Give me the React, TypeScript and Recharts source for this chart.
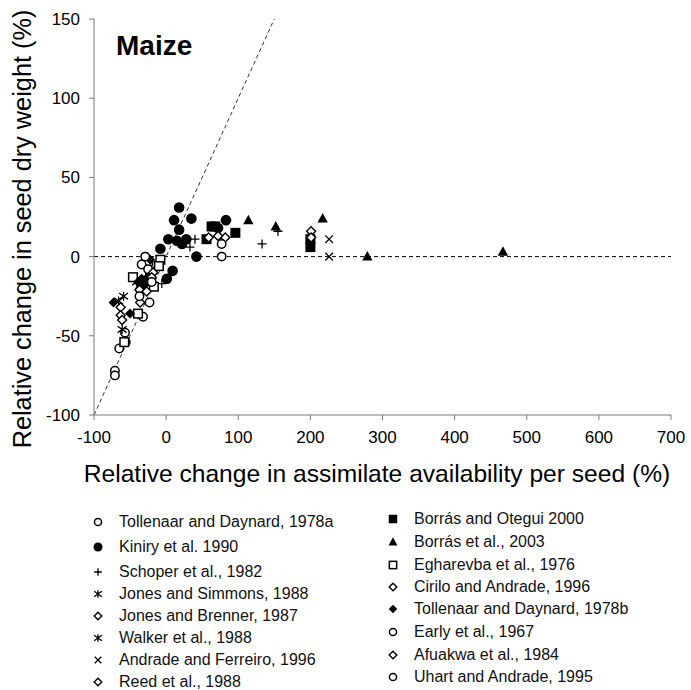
import React from 'react';
import { ScatterChart, Scatter, XAxis, YAxis, ReferenceLine, Label } from 'recharts';

type Pt = { x: number; y: number };
type Kind =
  | 'openCircle'
  | 'dot'
  | 'plus'
  | 'star'
  | 'openDiamond'
  | 'cross'
  | 'square'
  | 'triangle'
  | 'openSquare'
  | 'diamond';

const X_TICKS = [-100, 0, 100, 200, 300, 400, 500, 600, 700];
const Y_TICKS = [-100, -50, 0, 50, 100, 150];

// values (x: assimilate change %, y: seed weight change %)
const tollenaarA: Pt[] = [
  { x: -71, y: -72 }, { x: -71, y: -75 }, { x: -65, y: -58 }, { x: -56, y: -54 },
  { x: -57, y: -48 }, { x: -32, y: -38 }, { x: -23, y: -29 }, { x: -36, y: -21 },
];
const kiniry: Pt[] = [
  { x: 18, y: 31 }, { x: 11, y: 23 }, { x: 35, y: 24 }, { x: 18, y: 17 },
  { x: 3, y: 11 }, { x: 15, y: 10 }, { x: 22, y: 8 }, { x: 28, y: 11 },
  { x: -8, y: 5 }, { x: 42, y: 0 }, { x: 9, y: -9 }, { x: 1, y: -14 },
  { x: 83, y: 23 }, { x: 72, y: 18 }, { x: -28, y: -15 }, { x: -22, y: -11 },
];
const schoper: Pt[] = [
  { x: 40, y: 11 }, { x: 33, y: 6 }, { x: 133, y: 8 }, { x: 155, y: 16 }, { x: -6, y: -17 },
];
const jonesSimmons: Pt[] = [{ x: -59, y: -25 }, { x: -61, y: -46 }];
const jonesBrenner: Pt[] = [{ x: -63, y: -32 }, { x: -63, y: -37 }, { x: -61, y: -40 }];
const walker: Pt[] = [{ x: -66, y: -28 }, { x: -41, y: -16 }];
const andrade: Pt[] = [{ x: 226, y: 11 }, { x: 226, y: 0 }];
const reed: Pt[] = [{ x: -36, y: -29 }, { x: -37, y: -21 }, { x: -19, y: -5 }];
const borrasOtegui: Pt[] = [
  { x: 63, y: 19 }, { x: 56, y: 11 }, { x: 96, y: 15 }, { x: 68, y: 19 },
  { x: 200, y: 11 }, { x: 200, y: 6 },
];
const borras2003: Pt[] = [
  { x: 114, y: 23 }, { x: 152, y: 19 }, { x: 217, y: 24 }, { x: 279, y: 0 }, { x: 467, y: 3 },
];
const egharevba: Pt[] = [
  { x: -46, y: -13 }, { x: -8, y: -2 }, { x: -10, y: -6 }, { x: -17, y: -19 },
  { x: -39, y: -36 }, { x: -58, y: -54 }, { x: -25, y: -3 },
];
const cirilo: Pt[] = [
  { x: 201, y: 16 }, { x: 201, y: 12 }, { x: 59, y: 12 }, { x: 82, y: 12 }, { x: 72, y: 13 },
];
const tollenaarB: Pt[] = [
  { x: -73, y: -29 }, { x: -50, y: -36 }, { x: -39, y: -16 }, { x: -34, y: -14 },
  { x: -22, y: -2 }, { x: -30, y: -18 },
];
const early: Pt[] = [{ x: -34, y: -5 }, { x: -29, y: 0 }, { x: -37, y: -25 }, { x: -25, y: -8 }];
const afuakwa: Pt[] = [{ x: -18, y: -10 }, { x: -20, y: -13 }, { x: -27, y: -22 }];
const uhart: Pt[] = [{ x: 77, y: 8 }, { x: 77, y: 0 }, { x: -20, y: -16 }];

const LEFT = [
  { name: 'Tollenaar and Daynard, 1978a', kind: 'openCircle' as Kind, data: tollenaarA },
  { name: 'Kiniry et al. 1990', kind: 'dot' as Kind, data: kiniry },
  { name: 'Schoper et al., 1982', kind: 'plus' as Kind, data: schoper },
  { name: 'Jones and Simmons, 1988', kind: 'star' as Kind, data: jonesSimmons },
  { name: 'Jones and Brenner, 1987', kind: 'openDiamond' as Kind, data: jonesBrenner },
  { name: 'Walker et al., 1988', kind: 'star' as Kind, data: walker },
  { name: 'Andrade and Ferreiro, 1996', kind: 'cross' as Kind, data: andrade },
  { name: 'Reed et al., 1988', kind: 'openDiamond' as Kind, data: reed },
];
const RIGHT = [
  { name: 'Borrás and Otegui 2000', kind: 'square' as Kind, data: borrasOtegui },
  { name: 'Borrás et al., 2003', kind: 'triangle' as Kind, data: borras2003 },
  { name: 'Egharevba et al., 1976', kind: 'openSquare' as Kind, data: egharevba },
  { name: 'Cirilo and Andrade, 1996', kind: 'openDiamond' as Kind, data: cirilo },
  { name: 'Tollenaar and Daynard, 1978b', kind: 'diamond' as Kind, data: tollenaarB },
  { name: 'Early et al., 1967', kind: 'openCircle' as Kind, data: early },
  { name: 'Afuakwa et al., 1984', kind: 'openDiamond' as Kind, data: afuakwa },
  { name: 'Uhart and Andrade, 1995', kind: 'openCircle' as Kind, data: uhart },
];

const LEFT_ROWS = [522, 547, 572, 594, 616, 638, 660, 682];
const RIGHT_ROWS = [519, 542, 565, 587, 609, 632, 655, 677];

const FONT = '"Liberation Sans", Arial, sans-serif';

const Mark = ({ kind, cx, cy, s = 1 }: { kind: Kind; cx: number; cy: number; s?: number }) => {
  const h = 4.5 * s;
  switch (kind) {
    case 'openCircle':
      return <circle cx={cx} cy={cy} r={4.2 * s} fill="#fff" stroke="#000" strokeWidth={1.5} />;
    case 'dot':
      return <circle cx={cx} cy={cy} r={5.3 * s} fill="#000" />;
    case 'plus':
      return <path d={`M${cx - h},${cy}H${cx + h}M${cx},${cy - h}V${cy + h}`} stroke="#000" strokeWidth={1.3} />;
    case 'star':
      return (
        <path
          d={`M${cx},${cy - h}V${cy + h}M${cx - h},${cy - h * 0.7}L${cx + h},${cy + h * 0.7}M${cx - h},${cy + h * 0.7}L${cx + h},${cy - h * 0.7}`}
          stroke="#000"
          strokeWidth={1.3}
        />
      );
    case 'openDiamond':
      return (
        <path
          d={`M${cx},${cy - h}L${cx + h},${cy}L${cx},${cy + h}L${cx - h},${cy}Z`}
          fill="#fff"
          stroke="#000"
          strokeWidth={1.4}
        />
      );
    case 'cross':
      return (
        <path
          d={`M${cx - h * 0.85},${cy - h * 0.85}L${cx + h * 0.85},${cy + h * 0.85}M${cx - h * 0.85},${cy + h * 0.85}L${cx + h * 0.85},${cy - h * 0.85}`}
          stroke="#000"
          strokeWidth={1.3}
        />
      );
    case 'square':
      return <rect x={cx - 5 * s} y={cy - 5 * s} width={10 * s} height={10 * s} fill="#000" />;
    case 'openSquare':
      return (
        <rect x={cx - 4.3 * s} y={cy - 4.3 * s} width={8.6 * s} height={8.6 * s} fill="#fff" stroke="#000" strokeWidth={1.5} />
      );
    case 'triangle':
      return <path d={`M${cx},${cy - 5.5 * s}L${cx + 5.2 * s},${cy + 4 * s}L${cx - 5.2 * s},${cy + 4 * s}Z`} fill="#000" />;
    case 'diamond':
      return <path d={`M${cx},${cy - 5 * s}L${cx + 5 * s},${cy}L${cx},${cy + 5 * s}L${cx - 5 * s},${cy}Z`} fill="#000" />;
  }
  return null;
};

const LegendColumn = ({
  items,
  rows,
  markX,
  textX,
}: {
  items: { name: string; kind: Kind }[];
  rows: number[];
  markX: number;
  textX: number;
}) => (
  <>
    {items.map((it, i) => (
      <div key={it.name} style={{ position: 'absolute', left: 0, top: rows[i] - 10, height: 20 }}>
        <svg width={14} height={14} style={{ position: 'absolute', left: markX - 7, top: 3 }}>
          <Mark kind={it.kind} cx={7} cy={7} s={0.85} />
        </svg>
        <span
          style={{
            position: 'absolute',
            left: textX,
            top: 0,
            lineHeight: '20px',
            fontSize: 16,
            whiteSpace: 'nowrap',
            color: '#111',
          }}
        >
          {it.name}
        </span>
      </div>
    ))}
  </>
);

export default function App() {
  const all = [...LEFT, ...RIGHT];
  return (
    <div
      style={{
        position: 'absolute',
        left: 0,
        top: 0,
        width: 691,
        height: 690,
        background: '#fff',
        fontFamily: FONT,
        overflow: 'hidden',
      }}
    >
      <ScatterChart width={691} height={500} margin={{ top: 19, right: 20, bottom: 0, left: 0 }} style={{ fontFamily: FONT }}>
        <XAxis
          type="number"
          dataKey="x"
          domain={[-100, 700]}
          ticks={X_TICKS}
          height={85}
          tickSize={5}
          tickMargin={11}
          stroke="#7a7a7a"
          tick={{ fill: '#000', fontSize: 17 }}
          allowDataOverflow
        >
          <Label
            content={() => (
              <text x={377} y={473} textAnchor="middle" dominantBaseline="central" fontSize={24.6} fill="#000">
                Relative change in assimilate availability per seed (%)
              </text>
            )}
          />
        </XAxis>
        <YAxis
          type="number"
          dataKey="y"
          domain={[-100, 150]}
          ticks={Y_TICKS}
          width={94}
          tickSize={5}
          tickMargin={9}
          stroke="#7a7a7a"
          tick={{ fill: '#000', fontSize: 17 }}
          allowDataOverflow
        >
          <Label
            content={() => (
              <text
                x={22}
                y={229}
                transform="rotate(-90 22 229)"
                textAnchor="middle"
                dominantBaseline="central"
                fontSize={25.3}
                fill="#000"
              >
                Relative change in seed dry weight (%)
              </text>
            )}
          />
        </YAxis>
        <ReferenceLine y={0} stroke="#000" strokeDasharray="4 3" strokeWidth={1} />
        <ReferenceLine
          segment={[
            { x: -100, y: -100 },
            { x: 150, y: 150 },
          ]}
          stroke="#333"
          strokeDasharray="4 3"
          strokeWidth={1}
        />
        {all.map((s) => (
          <Scatter
            key={s.name}
            name={s.name}
            data={s.data}
            isAnimationActive={false}
            shape={(p: any) => <Mark kind={s.kind} cx={p.cx} cy={p.cy} />}
          />
        ))}
      </ScatterChart>
      <div
        style={{
          position: 'absolute',
          left: 116,
          top: 32,
          fontSize: 28,
          lineHeight: '28px',
          fontWeight: 'bold',
          color: '#000',
        }}
      >
        Maize
      </div>
      <LegendColumn items={LEFT} rows={LEFT_ROWS} markX={98} textX={119} />
      <LegendColumn items={RIGHT} rows={RIGHT_ROWS} markX={393} textX={414} />
    </div>
  );
}
